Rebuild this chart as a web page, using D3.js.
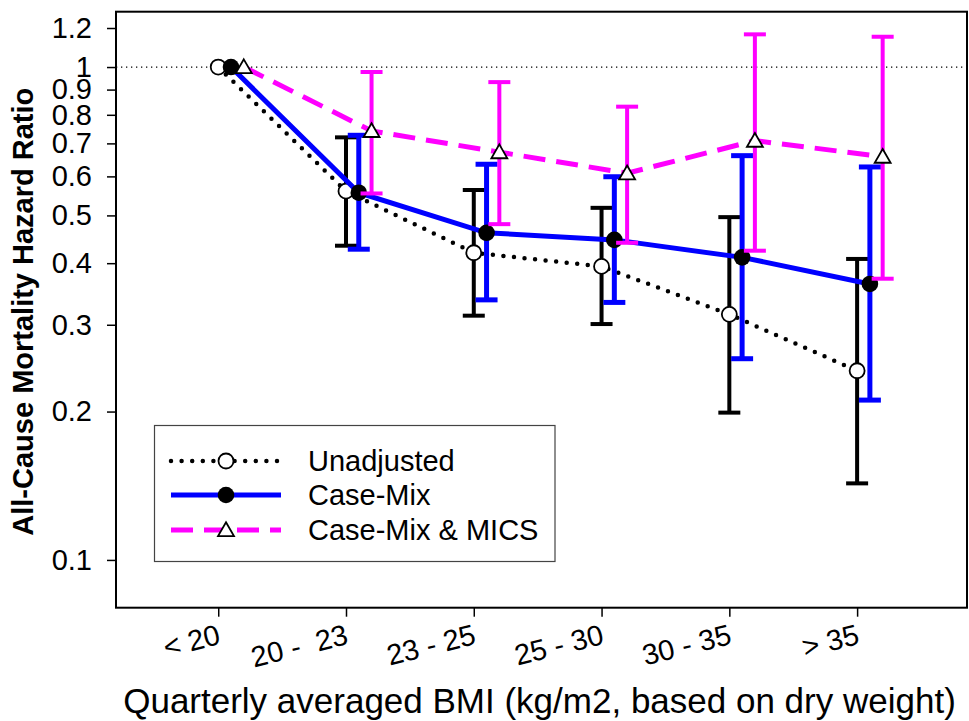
<!DOCTYPE html>
<html>
<head>
<meta charset="utf-8">
<script src="https://cdn.jsdelivr.net/npm/d3@7"></script>
<style>
  body { margin: 0; background: #fff; }
  text { font-family: "Liberation Sans", Arial, sans-serif; }
</style>
</head>
<body>
<div id="wrapper"></div>
<script>
  // DATA
  const categories = ["< 20", "20 -  23", "23 - 25", "25 - 30", "30 - 35", "> 35"]
  const yTicks = [0.1, 0.2, 0.3, 0.4, 0.5, 0.6, 0.7, 0.8, 0.9, 1, 1.2]
  const yTickLabels = ["0.1", "0.2", "0.3", "0.4", "0.5", "0.6", "0.7", "0.8", "0.9", "1", "1.2"]

  const unadjHR = [1, 0.56, 0.42, 0.394, 0.315, 0.242]
  const unadjLo = [null, 0.434, 0.313, 0.301, 0.199, 0.143]
  const unadjHi = [null, 0.72, 0.563, 0.518, 0.496, 0.408]

  const caseMixHR = [1, 0.556, 0.461, 0.446, 0.411, 0.363]
  const caseMixLo = [null, 0.427, 0.337, 0.333, 0.256, 0.211]
  const caseMixHi = [null, 0.727, 0.635, 0.599, 0.661, 0.627]

  const micsHR = [1, 0.742, 0.672, 0.609, 0.709, 0.658]
  const micsLo = [null, 0.554, 0.48, 0.44, 0.424, 0.372]
  const micsHi = [null, 0.977, 0.932, 0.831, 1.165, 1.152]

  const seriesNames = ["Unadjusted", "Case-Mix", "Case-Mix & MICS"]

  // DIMENSIONS
  const dimensions = {
    width: 969,
    height: 721,
    left: 116,
    right: 967,
    top: 11.7,
    bottom: 607.7
  }

  const svg = d3.select("#wrapper").append("svg")
    .attr("width", dimensions.width)
    .attr("height", dimensions.height)

  // SCALES
  const xScale = d3.scaleLinear()
    .domain([-0.8, 5.86])
    .range([dimensions.left, dimensions.right])

  const yScale = d3.scaleLog()
    .domain([0.08, 1.295])
    .range([dimensions.bottom, dimensions.top])

  // reference line at HR = 1
  svg.append("line")
    .attr("x1", dimensions.left).attr("x2", dimensions.right)
    .attr("y1", yScale(1)).attr("y2", yScale(1))
    .attr("stroke", "#000").attr("stroke-width", 1.2)
    .attr("stroke-dasharray", "1.3 3.7")

  // AXES
  const yAxis = svg.append("g")
    .attr("transform", `translate(${dimensions.left},0)`)
    .call(d3.axisLeft(yScale)
      .tickValues(yTicks)
      .tickFormat((d, i) => yTickLabels[i])
      .tickSize(9)
      .tickPadding(15))
  yAxis.select(".domain").remove()
  yAxis.selectAll("line").attr("stroke-width", 1.5)
  yAxis.selectAll("text")
    .attr("fill", "#000")
    .style("font-size", "29px")
    .style("font-family", '"Liberation Sans", Arial, sans-serif')

  const xAxis = svg.append("g")
    .attr("transform", `translate(0,${dimensions.bottom})`)
    .call(d3.axisBottom(xScale)
      .tickValues(d3.range(categories.length))
      .tickFormat(i => categories[i])
      .tickSize(9))
  xAxis.select(".domain").remove()
  xAxis.selectAll("line").attr("stroke-width", 1.5)
  xAxis.selectAll("text")
    .attr("fill", "#000")
    .attr("x", 3)
    .attr("y", 36)
    .attr("dy", 0)
    .attr("text-anchor", "end")
    .attr("transform", "rotate(-14, 3, 36)")
    .style("white-space", "pre")
    .style("font-size", "29px")
    .style("font-family", '"Liberation Sans", Arial, sans-serif')

  // LABELS
  svg.append("text")
    .attr("x", (dimensions.left + dimensions.right) / 2 - 2)
    .attr("y", 713)
    .attr("text-anchor", "middle")
    .style("font-size", "35px")
    .text("Quarterly averaged BMI (kg/m2, based on dry weight)")

  svg.append("text")
    .attr("transform", `translate(33,${(dimensions.top + dimensions.bottom) / 2 + 2}) rotate(-90)`)
    .attr("text-anchor", "middle")
    .style("font-size", "29px")
    .style("font-weight", "bold")
    .text("All-Cause Mortality Hazard Ratio")

  // SERIES
  const series = [
    { hr: unadjHR, lo: unadjLo, hi: unadjHi, off: 0, color: "#000", lw: 4.5, dash: "0 10.6", cap: "round", barW: 4, marker: "open" },
    { hr: caseMixHR, lo: caseMixLo, hi: caseMixHi, off: 0.1, color: "#0000ff", lw: 5, dash: null, cap: "butt", barW: 5, marker: "filled" },
    { hr: micsHR, lo: micsLo, hi: micsHi, off: 0.2, color: "#ff00ff", lw: 5, dash: "22 11", cap: "butt", barW: 4, marker: "triangle" }
  ]

  const triangle = d3.symbol().type(d3.symbolTriangle).size(110)

  function drawMarker(g, type, x, y) {
    if (type === "open") {
      g.append("circle").attr("cx", x).attr("cy", y).attr("r", 7.5)
        .attr("fill", "#fff").attr("stroke", "#000").attr("stroke-width", 1.8)
    } else if (type === "filled") {
      g.append("circle").attr("cx", x).attr("cy", y).attr("r", 8.3)
        .attr("fill", "#000")
    } else {
      g.append("path").attr("d", triangle)
        .attr("transform", `translate(${x},${y + 1.5})`)
        .attr("fill", "#fff").attr("stroke", "#000").attr("stroke-width", 1.8)
    }
  }

  series.forEach(s => {
    const g = svg.append("g")
    const idx = d3.range(s.hr.length)
    const px = i => xScale(i + s.off)

    // error bars
    idx.filter(i => s.lo[i] != null).forEach(i => {
      const x = px(i)
      g.append("line")
        .attr("x1", x).attr("x2", x)
        .attr("y1", yScale(s.lo[i])).attr("y2", yScale(s.hi[i]))
        .attr("stroke", s.color).attr("stroke-width", s.barW)
      ;[s.lo[i], s.hi[i]].forEach(v => {
        g.append("line")
          .attr("x1", x - 11).attr("x2", x + 11)
          .attr("y1", yScale(v)).attr("y2", yScale(v))
          .attr("stroke", s.color).attr("stroke-width", s.barW)
      })
    })

    // connecting line
    g.append("path")
      .datum(idx)
      .attr("d", d3.line().x(px).y(i => yScale(s.hr[i])))
      .attr("fill", "none")
      .attr("stroke", s.color)
      .attr("stroke-width", s.lw)
      .attr("stroke-linecap", s.cap)
      .attr("stroke-dasharray", s.dash)

    idx.forEach(i => drawMarker(g, s.marker, px(i), yScale(s.hr[i])))
  })

  // FRAME
  svg.append("rect")
    .attr("x", dimensions.left).attr("y", dimensions.top)
    .attr("width", dimensions.right - dimensions.left)
    .attr("height", dimensions.bottom - dimensions.top)
    .attr("fill", "none").attr("stroke", "#000").attr("stroke-width", 2)

  // LEGEND
  const legend = svg.append("g")
  legend.append("rect")
    .attr("x", 154.5).attr("y", 425.5)
    .attr("width", 400.5).attr("height", 136)
    .attr("fill", "#fff").attr("stroke", "#444").attr("stroke-width", 1.2)

  const rowY = [461, 495, 530]
  series.forEach((s, k) => {
    const y = rowY[k]
    legend.append("line")
      .attr("x1", 171).attr("x2", 281)
      .attr("y1", y).attr("y2", y)
      .attr("stroke", s.color)
      .attr("stroke-width", s.lw)
      .attr("stroke-linecap", s.cap)
      .attr("stroke-dasharray", s.dash)
    drawMarker(legend, s.marker, 226, y)
    legend.append("text")
      .attr("x", 308).attr("y", y)
      .attr("dy", "0.36em")
      .style("font-size", "29px")
      .text(seriesNames[k])
  })
</script>
</body>
</html>
